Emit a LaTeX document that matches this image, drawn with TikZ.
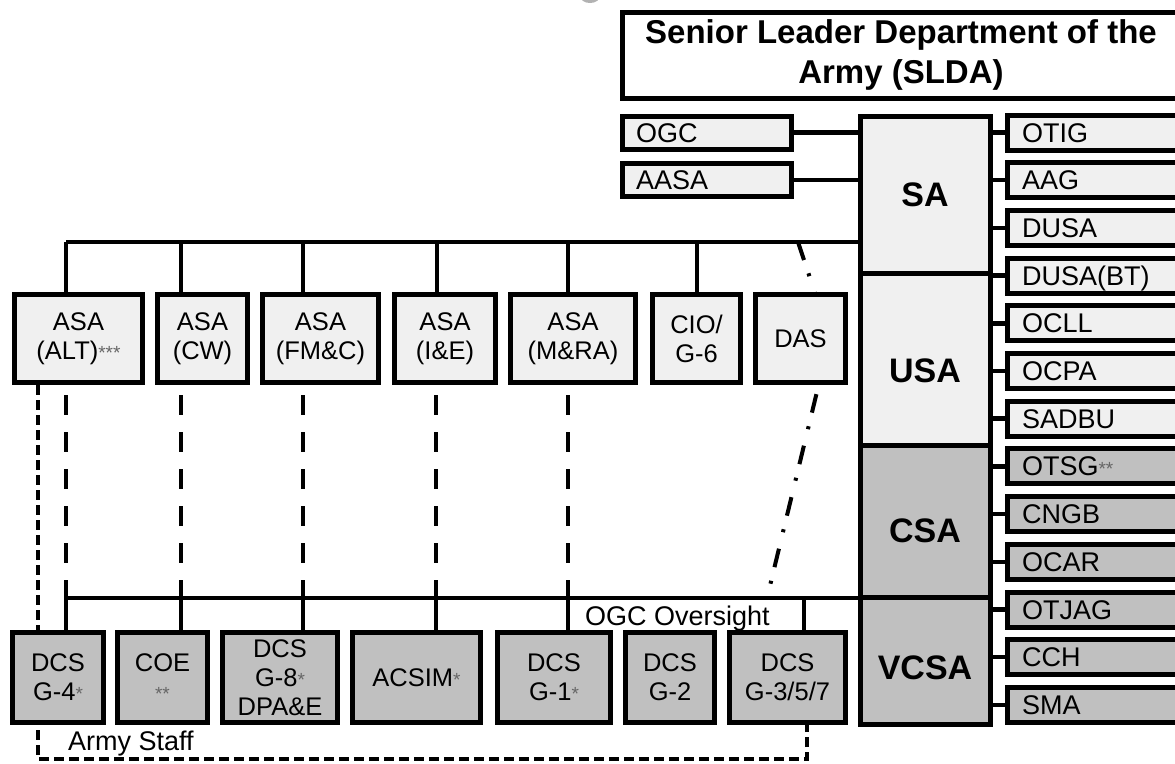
\documentclass[tikz,border=0pt]{standalone}
\usepackage{fontspec}
\setmainfont{Liberation Sans}
\usetikzlibrary{backgrounds}
\definecolor{lightfill}{HTML}{F0F0F0}
\definecolor{darkfill}{HTML}{C0C0C0}
\definecolor{astgray}{HTML}{666666}
\newcommand\myast[1]{\raisebox{0pt}{\fontsize{19}{19}\selectfont\color{astgray}#1}}
\begin{document}
\begin{tikzpicture}[x=1pt,y=-1pt,
 obox/.style={draw=black,line width=5pt,inner sep=0pt,align=center,font=\fontsize{25.5}{29}\selectfont},
 lbox/.style={obox,fill=lightfill},
 dbox/.style={obox,fill=darkfill},
 bigbox/.style={draw=black,line width=5pt,inner sep=0pt,minimum width=130pt,text depth=0pt,font=\bfseries\fontsize{34}{40}\selectfont},
 side/.style={draw=black,line width=5pt,inner xsep=15pt,inner ysep=0pt,text width=148pt,align=left,minimum height=35pt,text height=19pt,text depth=0pt,font=\fontsize{27}{30}\selectfont},
 conn/.style={line width=4.5pt},
 vdash/.style={line width=4.5pt,dash pattern=on 20pt off 17pt},
 fdash/.style={line width=4pt,dash pattern=on 10pt off 5pt},
 ddash/.style={line width=4pt,dash pattern=on 19pt off 14pt on 3pt off 17pt},
 lbl/.style={font=\fontsize{27}{30}\selectfont,inner sep=0pt}
]
\useasboundingbox (0,0) rectangle (1175,763);

\begin{scope}
\clip (0,0) rectangle (1175,763);
\fill[gray!60] (590,-4) ellipse (10pt and 7pt);
\end{scope}

% header
\node[draw=black,line width=5pt,fill=white,minimum width=558pt,minimum height=86pt,inner sep=0pt,align=center,font=\bfseries\fontsize{33}{40}\selectfont] (slda) at (901,55) {Senior Leader Department of the\\Army (SLDA)};

% side boxes left of SA
\node[side,fill=lightfill,text width=141pt,inner xsep=14pt,minimum height=33pt] (ogc) at (706.5,132.5) {OGC};
\node[side,fill=lightfill,text width=141pt,inner xsep=14pt,minimum height=33pt] (aasa) at (706.5,180) {AASA};

% big column
\node[bigbox,fill=lightfill,minimum height=157pt,text height=24pt] (sa) at (925,194.5) {SA};
\node[bigbox,fill=lightfill,minimum height=172pt,text height=46pt] (usa) at (925,359) {USA};
\node[bigbox,fill=darkfill,minimum height=152pt,text height=42pt] (csa) at (925,521) {CSA};
\node[bigbox,fill=darkfill,minimum height=127pt,text height=37pt] (vcsa) at (925,660.5) {VCSA};

% right column
\foreach \n/\t/\f [count=\i from 0] in {otig/OTIG/lightfill, aag/AAG/lightfill, dusa/DUSA/lightfill, dusabt/DUSA(BT)/lightfill, ocll/OCLL/lightfill, ocpa/OCPA/lightfill, sadbu/SADBU/lightfill, otsg/{OTSG\myast{**}}/darkfill, cngb/CNGB/darkfill, ocar/OCAR/darkfill, otjag/OTJAG/darkfill, cch/CCH/darkfill, sma/SMA/darkfill}{
  \node[side,fill=\f] (\n) at (1096,132.5+47.7*\i) {\t};
}

% top row
\node[lbox,minimum width=128pt,minimum height=88pt] (alt) at (78.5,338.5) {ASA\\(ALT)\myast{***}};
\node[lbox,minimum width=90pt,minimum height=88pt] (cw) at (202.5,338.5) {ASA\\(CW)};
\node[lbox,minimum width=116pt,minimum height=88pt] (fmc) at (320.5,338.5) {ASA\\(FM\&C)};
\node[lbox,minimum width=101pt,minimum height=88pt] (ie) at (445,338.5) {ASA\\(I\&E)};
\node[lbox,minimum width=125pt,minimum height=88pt] (mra) at (573,338.5) {ASA\\(M\&RA)};
\node[lbox,minimum width=88pt,minimum height=88pt] (cio) at (696.5,338.5) {CIO/\\G-6};
\node[lbox,minimum width=90pt,minimum height=88pt] (das) at (800.5,338.5) {DAS};

% bottom row
\node[dbox,minimum width=91pt,minimum height=90pt] (g4) at (58,677.5) {DCS\\G-4\myast{*}};
\node[dbox,minimum width=90pt,minimum height=90pt] (coe) at (162.5,677.5) {COE\\\myast{**}};
\node[dbox,minimum width=115pt,minimum height=90pt] (g8) at (280,677.5) {DCS\\G-8\myast{*}\\DPA\&E};
\node[dbox,minimum width=128pt,minimum height=90pt] (acsim) at (416.5,677.5) {ACSIM\myast{*}};
\node[dbox,minimum width=113pt,minimum height=90pt] (g1) at (554,677.5) {DCS\\G-1\myast{*}};
\node[dbox,minimum width=89pt,minimum height=90pt] (g2) at (670,677.5) {DCS\\G-2};
\node[dbox,minimum width=116pt,minimum height=90pt] (g357) at (787.5,677.5) {DCS\\G-3/5/7};

% labels
\node[lbl,anchor=base west] (ogcov) at (585,625) {OGC Oversight};
\node[lbl,anchor=base west] (armystaff) at (68,750) {Army Staff};

% coordinates
\coordinate (t1) at (66,242);
\coordinate (t2) at (181,242);
\coordinate (t3) at (303,242);
\coordinate (t4) at (437,242);
\coordinate (t5) at (568,242);
\coordinate (t6) at (697,242);
\coordinate (b1) at (66,598);
\coordinate (b2) at (181,598);
\coordinate (b3) at (303,598);
\coordinate (b4) at (436,598);
\coordinate (b5) at (568,598);
\coordinate (b6) at (804,598);
\coordinate (dd1) at (798,242);
\coordinate (ddm) at (830,338);
\coordinate (dd2) at (767,598);
\coordinate (as1) at (38,759);
\coordinate (as2) at (807,759);

\begin{scope}[on background layer]
\draw[conn] (t1) -- (t1 -| sa.west);
\foreach \t/\b in {t1/alt,t2/cw,t3/fmc,t4/ie,t5/mra,t6/cio} \draw[conn] (\t) -- (\t |- \b.north);
\draw[conn] (b1) -- (b1 -| vcsa.west);
\foreach \c/\b in {b1/g4,b2/coe,b3/g8,b4/acsim,b5/g1,b6/g357} \draw[conn] (\c) -- (\c |- \b.north);
\foreach \c/\b in {b1/alt,b2/cw,b3/fmc,b4/ie,b5/mra} \draw[vdash,shorten <=10pt] (\c |- \b.south) -- (\c);
\draw[ddash] (dd1) -- (ddm) -- (dd2);
\draw[fdash] (alt.south -| as1) -- (as1) -- (as2) -- (as2 |- g357.south);
\draw[conn] (ogc.east) -- (ogc.east -| sa.west);
\draw[conn] (aasa.east) -- (aasa.east -| sa.west);
\foreach \n in {otig,aag,dusa,dusabt,ocll,ocpa,sadbu,otsg,cngb,ocar,otjag,cch,sma} \draw[conn] (\n.west) -- (\n.west -| sa.east);
\end{scope}
\end{tikzpicture}
\end{document}
